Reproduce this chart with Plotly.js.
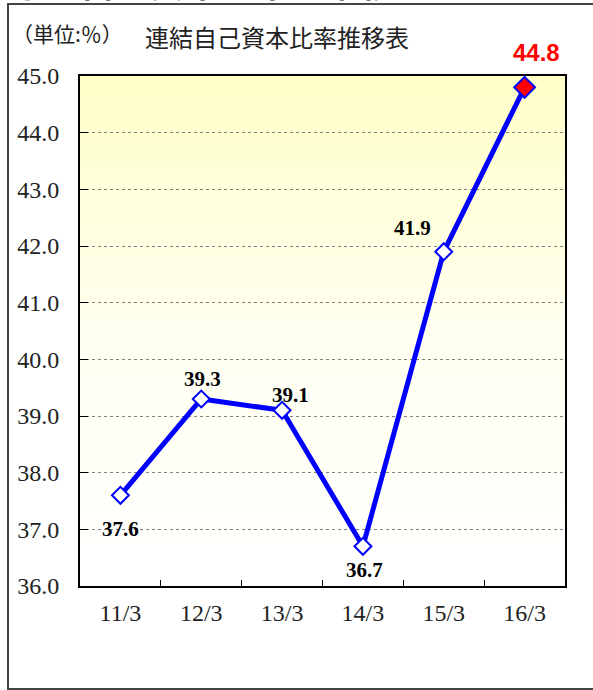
<!DOCTYPE html>
<html><head><meta charset="utf-8">
<script src="https://cdn.plot.ly/plotly-3.0.1.min.js"></script>
<style>
html,body{margin:0;padding:0;background:#fff;}
#wrap{position:relative;width:593px;height:690px;overflow:hidden;}
#frame{position:absolute;left:7px;top:3px;width:620px;height:683px;border:2px solid #444;}
#bg{position:absolute;left:80px;top:76px;width:485px;height:510px;background:linear-gradient(to bottom,#FFFFC8 0%,#FFFFF0 50%,#FFFFFF 100%);}
#chart{position:absolute;left:0;top:0;width:593px;height:690px;}
</style></head>
<body><div id="wrap"><div id="frame"></div><div id="bg"></div><div id="chart"></div></div>
<script>
// ---- data ----
const categories = ['11/3', '12/3', '13/3', '14/3', '15/3', '16/3'];
const ratios = [37.6, 39.3, 39.1, 36.7, 41.9, 44.8];
const labelTexts = ['37.6', '39.3', '39.1', '36.7', '41.9', '44.8'];
const yTickValues = [36, 37, 38, 39, 40, 41, 42, 43, 44, 45];
const yTickLabels = ['36.0', '37.0', '38.0', '39.0', '40.0', '41.0', '42.0', '43.0', '44.0', '45.0'];
const chartTitle = '連結自己資本比率推移表';
const unitText = '（単位:％）';
const headingText = '①　自己資本比率の推移';

// ---- styles ----
const labelShift = [[0, -34], [1, 20], [8, 15], [2, -24], [-31, 24], [12, 35]];
const last = categories.length - 1;
const markerFill = categories.map((c, i) => i === last ? '#FF0000' : '#FFFFFF');
const markerSize = categories.map((c, i) => i === last ? 16 : 13);

const lineTrace = {
  type: 'scatter', mode: 'lines',
  x: categories, y: ratios,
  line: {color: '#0000FF', width: 5},
  hoverinfo: 'skip'
};
const markerTrace = {
  type: 'scatter', mode: 'markers',
  x: categories, y: ratios,
  marker: {symbol: 'diamond', size: markerSize, color: markerFill, opacity: 1,
    line: {color: '#0000FF', width: 2}},
  hoverinfo: 'skip'
};

const annotations = categories.map((c, i) => ({
  xref: 'x', yref: 'y', x: c, y: ratios[i], text: labelTexts[i], showarrow: false,
  xanchor: 'center', yanchor: 'middle', xshift: labelShift[i][0], yshift: labelShift[i][1],
  font: i === last
    ? {family: 'Liberation Sans Narrow, Arial Narrow, Liberation Sans, sans-serif', size: 24, color: '#FF0000', weight: 'bold'}
    : {family: 'Liberation Serif, serif', size: 21, color: '#000000', weight: 'bold'}
}));
annotations.push({
  xref: 'paper', yref: 'paper', x: -0.1443, y: 1.0843, xanchor: 'left', yanchor: 'middle',
  text: unitText, showarrow: false,
  font: {family: 'Noto Sans CJK JP, sans-serif', size: 21, color: '#222'}
});
annotations.push({
  xref: 'paper', yref: 'paper', x: -0.1485, y: 1.1314, xanchor: 'left', yanchor: 'bottom',
  text: headingText, showarrow: false,
  font: {family: 'Noto Sans CJK JP, sans-serif', size: 35, color: '#000', weight: 'bold'}
});

const layout = {
  width: 593, height: 690, autosize: false,
  margin: {l: 80, r: 28, t: 76, b: 104},
  paper_bgcolor: 'rgba(0,0,0,0)', plot_bgcolor: 'rgba(0,0,0,0)',
  showlegend: false,
  title: {text: chartTitle, xref: 'container', yref: 'container', x: 277 / 593, y: 1 - 39 / 690,
    xanchor: 'center', yanchor: 'middle',
    font: {family: 'Noto Sans CJK JP, sans-serif', size: 24, color: '#222'}},
  xaxis: {type: 'category', range: [-0.5, 5.5], showgrid: false, zeroline: false,
    showline: true, linecolor: '#000', linewidth: 2, mirror: true,
    ticks: 'inside', ticklen: 6, tickcolor: '#000', tickwidth: 1, tickson: 'boundaries',
    tickfont: {family: 'Liberation Serif, serif', size: 24, color: '#222'},
    ticklabelstandoff: 4, fixedrange: true},
  yaxis: {range: [36, 45], tickvals: yTickValues, ticktext: yTickLabels, zeroline: false,
    showgrid: true, gridcolor: '#808080', griddash: 'dot', gridwidth: 1,
    showline: true, linecolor: '#000', linewidth: 2, mirror: true,
    ticks: 'inside', ticklen: 8, tickcolor: '#000', tickwidth: 1,
    tickfont: {family: 'Liberation Serif, serif', size: 24, color: '#222'},
    ticklabelstandoff: 14, fixedrange: true},
  annotations: annotations
};

Plotly.newPlot('chart', [lineTrace, markerTrace], layout, {staticPlot: true, displayModeBar: false});
</script>
</body></html>
